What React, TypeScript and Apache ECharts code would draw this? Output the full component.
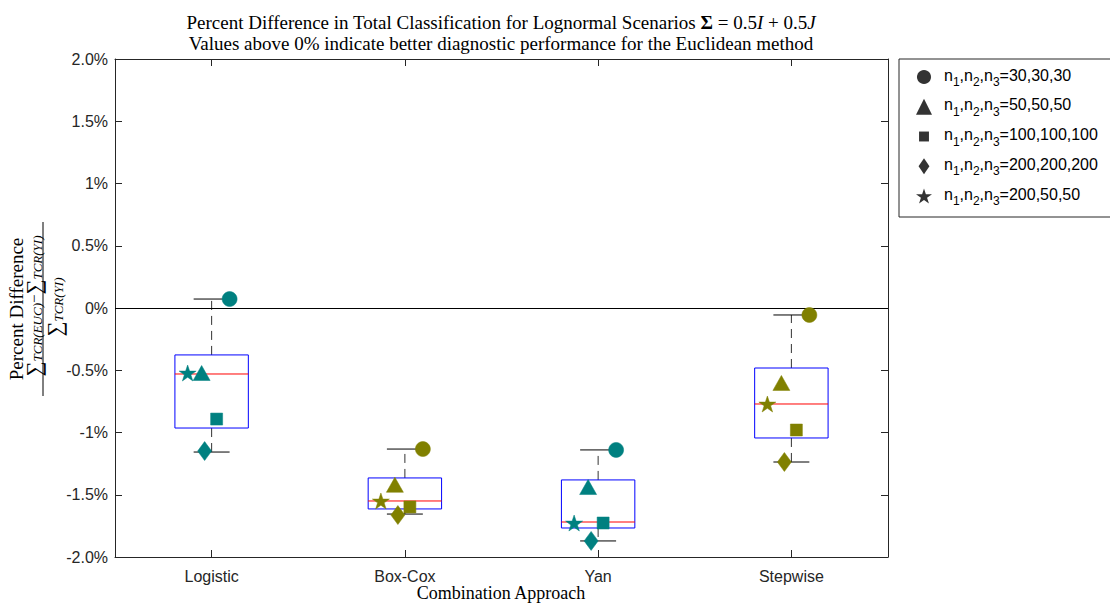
import React, { useEffect, useRef } from "react";
import * as echarts from "echarts";

const categories = ["Logistic", "Box-Cox", "Yan", "Stepwise"];
const groupColors = ["#008080", "#808000", "#008080", "#808000"];

const boxLow = [-1.157, -1.655, -1.871, -1.237];
const boxQ1 = [-0.964, -1.614, -1.767, -1.044];
const boxMedian = [-0.53, -1.55, -1.719, -0.771];
const boxQ3 = [-0.377, -1.365, -1.381, -0.482];
const boxHigh = [0.072, -1.133, -1.14, -0.056];

const scenarioNames = ["30,30,30", "50,50,50", "100,100,100", "200,200,200", "200,50,50"];
const vals30 = [0.072, -1.133, -1.14, -0.056];
const vals50 = [-0.522, -1.42, -1.438, -0.602];
const vals100 = [-0.892, -1.598, -1.727, -0.98];
const vals200 = [-1.149, -1.663, -1.871, -1.237];
const vals200_50 = [-0.522, -1.55, -1.727, -0.771];

const yTickValues = [-2, -1.5, -1, -0.5, 0, 0.5, 1, 1.5, 2];
const yTickLabels = ["-2.0%", "-1.5%", "-1%", "-0.5%", "0%", "0.5%", "1%", "1.5%", "2.0%"];

const starPath =
  "path://M50,0 L61.2,34.5 L97.6,34.5 L68.2,55.9 L79.4,90.5 L50,69.1 L20.6,90.5 L31.8,55.9 L2.4,34.5 L38.8,34.5 Z";
const legendSquare = "path://M0,0 M100,100 M19,19 L81,19 L81,81 L19,81 Z";
const legendDiamond = "path://M0,0 M100,100 M50,0 L84,50 L50,100 L16,50 Z";
const legendCircle = "path://M0,0 M100,100 M50,6 A44,44 0 1 1 49.99,6 Z";

const scenarioValues = [vals30, vals50, vals100, vals200, vals200_50];
const scenarioSymbols = ["circle", "triangle", "rect", "diamond", starPath];
const scenarioSizes = [[15, 15], [17, 15], [12, 12], [14, 19], [17, 16]];
const scenarioOffsets = [[18, 0], [-10, 0], [5, 0], [-7, 0], [-24, 0]];
const legendSymbols = [legendCircle, "triangle", legendSquare, legendDiamond, starPath];

const SANS = "Liberation Sans, Arial, Helvetica, sans-serif";
const SERIF = "Liberation Serif, Times New Roman, serif";

export default function App() {
  const ref = useRef<HTMLDivElement>(null);

  useEffect(() => {
    if (!ref.current) return;
    const chart = echarts.init(ref.current, null, { renderer: "svg" });

    const boxData = categories.map((_, i) => [i, boxLow[i], boxQ1[i], boxMedian[i], boxQ3[i], boxHigh[i]]);

    const scatterSeries = scenarioNames.map((name, s) => ({
      type: "scatter",
      name,
      symbol: scenarioSymbols[s],
      symbolSize: scenarioSizes[s],
      symbolOffset: scenarioOffsets[s],
      z: 5 + s,
      data: scenarioValues[s].map((v, i) => ({
        value: [i, v],
        itemStyle: { color: groupColors[i], borderColor: groupColors[i], borderWidth: 0.5, opacity: 1 },
      })),
    }));

    const xAxisCommon = {
      type: "category",
      data: categories,
      boundaryGap: true,
      axisLine: { show: true, onZero: false, lineStyle: { color: "#262626", width: 1 } },
      axisTick: { show: true, inside: true, alignWithLabel: true, length: 7, lineStyle: { color: "#262626" } },
      splitLine: { show: false },
    };

    const option: any = {
      animation: false,
      backgroundColor: "#ffffff",
      title: {
        left: 501,
        textAlign: "center",
        top: 12,
        padding: 0,
        text:
          "Percent Difference in Total Classification for Lognormal Scenarios {b|Σ} = 0.5{i|I} + 0.5{i|J}\nValues above 0% indicate better diagnostic performance for the Euclidean method",
        textStyle: {
          fontFamily: SERIF,
          fontSize: 19,
          fontWeight: "normal",
          color: "#000",
          lineHeight: 21,
          rich: {
            b: { fontFamily: SERIF, fontSize: 19, fontWeight: "bold", color: "#000", lineHeight: 21 },
            i: { fontFamily: SERIF, fontSize: 19, fontStyle: "italic", color: "#000", lineHeight: 21 },
          },
        },
      },
      legend: {
        orient: "vertical",
        left: 899,
        top: 59,
        padding: [8, 30, 10, 17],
        itemWidth: 16,
        itemHeight: 16,
        itemGap: 8.75,
        borderColor: "#262626",
        borderWidth: 1,
        data: scenarioNames.map((n, s) => ({
          name: n,
          icon: legendSymbols[s],
          itemStyle: { color: "#000", borderColor: "#000", borderWidth: 0 },
        })),
        formatter: (name: string) => "{n|n}{sub|1}{n|,n}{sub|2}{n|,n}{sub|3}{n|=" + name + "}",
        textStyle: {
          fontFamily: SANS,
          fontSize: 16,
          color: "#000",
          lineHeight: 20,
          padding: [0, 0, 0, 7],
          rich: {
            n: { fontFamily: SANS, fontSize: 16, color: "#000", lineHeight: 20, verticalAlign: "top" },
            sub: {
              fontFamily: SANS,
              fontSize: 12,
              color: "#000",
              lineHeight: 12,
              verticalAlign: "top",
              padding: [9, 0, 0, 0],
            },
          },
        },
      },
      grid: { left: 115, top: 59, width: 773, height: 498, outerBoundsMode: "none", containLabel: false },
      xAxis: [
        {
          ...xAxisCommon,
          position: "bottom",
          axisLabel: { fontFamily: SANS, fontSize: 16, color: "#262626", margin: 11 },
        },
        {
          ...xAxisCommon,
          position: "top",
          axisLabel: { show: false },
        },
      ],
      yAxis: [
        {
          type: "value",
          min: -2,
          max: 2,
          interval: 0.5,
          position: "left",
          axisLine: { show: true, onZero: false, lineStyle: { color: "#262626", width: 1 } },
          axisTick: { show: true, inside: true, length: 7, lineStyle: { color: "#262626" } },
          axisLabel: {
            fontFamily: SANS,
            fontSize: 16,
            color: "#262626",
            margin: 7,
            formatter: (v: number) => {
              const k = yTickValues.findIndex((t) => Math.abs(t - v) < 1e-9);
              return k >= 0 ? yTickLabels[k] : "";
            },
          },
          splitLine: { show: false },
        },
        {
          type: "value",
          min: -2,
          max: 2,
          interval: 0.5,
          position: "right",
          axisLine: { show: true, onZero: false, lineStyle: { color: "#262626", width: 1 } },
          axisTick: { show: true, inside: true, length: 7, lineStyle: { color: "#262626" } },
          axisLabel: { show: false },
          splitLine: { show: false },
        },
      ],
      series: [
        {
          type: "custom",
          name: "box",
          z: 2,
          data: boxData,
          encode: { x: 0, y: [1, 2, 3, 4, 5] },
          renderItem: (params: any, api: any) => {
            const idx = api.value(0);
            const bw = api.size([1, 0])[0];
            const hw = bw * 0.19;
            const cw = bw * 0.093;
            const pLow = api.coord([idx, api.value(1)]);
            const pQ1 = api.coord([idx, api.value(2)]);
            const pMed = api.coord([idx, api.value(3)]);
            const pQ3 = api.coord([idx, api.value(4)]);
            const pHigh = api.coord([idx, api.value(5)]);
            const cx = pQ1[0];
            const wStyle = { stroke: "#333333", lineWidth: 1, lineDash: [9, 6] };
            const cStyle = { stroke: "#000000", lineWidth: 1 };
            return {
              type: "group",
              children: [
                { type: "line", shape: { x1: cx, y1: pQ3[1], x2: cx, y2: pHigh[1] }, style: wStyle },
                { type: "line", shape: { x1: cx, y1: pQ1[1], x2: cx, y2: pLow[1] }, style: wStyle },
                { type: "line", shape: { x1: cx - cw, y1: pHigh[1], x2: cx + cw, y2: pHigh[1] }, style: cStyle },
                { type: "line", shape: { x1: cx - cw, y1: pLow[1], x2: cx + cw, y2: pLow[1] }, style: cStyle },
                {
                  type: "rect",
                  shape: { x: cx - hw, y: pQ3[1], width: hw * 2, height: pQ1[1] - pQ3[1] },
                  style: { fill: "none", stroke: "#0000ff", lineWidth: 1 },
                },
                {
                  type: "line",
                  shape: { x1: cx - hw, y1: pMed[1], x2: cx + hw, y2: pMed[1] },
                  style: { stroke: "#ff0000", lineWidth: 1 },
                },
              ],
            };
          },
          markLine: {
            silent: true,
            symbol: "none",
            label: { show: false },
            lineStyle: { color: "#000", width: 1, type: "solid" },
            data: [{ yAxis: 0 }],
          },
        },
        ...scatterSeries,
      ],
      graphic: [
        {
          type: "text",
          x: 501,
          y: 584,
          style: {
            text: "Combination Approach",
            font: "18px " + SERIF,
            fill: "#000",
            align: "center",
            verticalAlign: "top",
          },
        },
        {
          type: "text",
          x: 7,
          y: 309,
          rotation: Math.PI / 2,
          style: {
            text: "Percent Difference",
            font: "19px " + SERIF,
            fill: "#000",
            align: "center",
            verticalAlign: "top",
          },
        },
        {
          type: "text",
          x: 23,
          y: 306,
          rotation: Math.PI / 2,
          style: {
            text: "{s|∑}{i|TCR(EUC)}{m|−}{s|∑}{i|TCR(YI)}",
            align: "center",
            verticalAlign: "top",
            fill: "#000",
            rich: {
              s: { fontFamily: SERIF, fontSize: 21, fill: "#000" },
              i: { fontFamily: SERIF, fontSize: 13, fontStyle: "italic", fill: "#000", padding: [7, 0, 0, 0] },
              m: { fontFamily: SERIF, fontSize: 15, fill: "#000" },
            },
          },
        },
        {
          type: "line",
          shape: { x1: 43, y1: 222, x2: 43, y2: 396 },
          style: { stroke: "#000", lineWidth: 1 },
        },
        {
          type: "text",
          x: 44,
          y: 307,
          rotation: Math.PI / 2,
          style: {
            text: "{s|∑}{i|TCR(YI)}",
            align: "center",
            verticalAlign: "top",
            fill: "#000",
            rich: {
              s: { fontFamily: SERIF, fontSize: 21, fill: "#000" },
              i: { fontFamily: SERIF, fontSize: 13, fontStyle: "italic", fill: "#000", padding: [7, 0, 0, 0] },
            },
          },
        },
      ],
    };

    chart.setOption(option);
    return () => chart.dispose();
  }, []);

  return (
    <div
      ref={ref}
      style={{ position: "fixed", left: 0, top: 0, width: 1110, height: 603, background: "#fff" }}
    />
  );
}
